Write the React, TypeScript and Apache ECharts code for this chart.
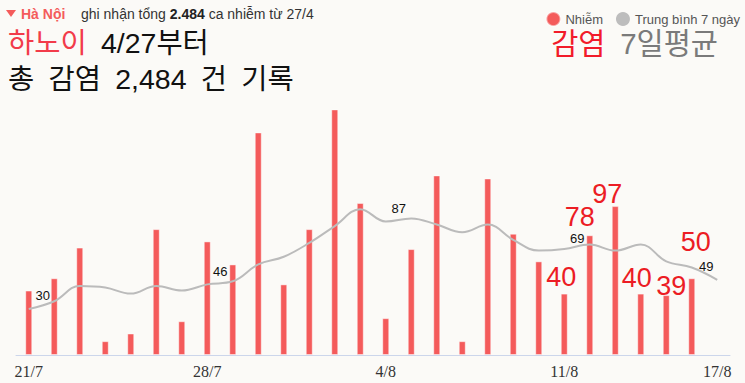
import React, { useEffect, useRef } from 'react';
import * as echarts from 'echarts';

const categories = [
  '21/7', '22/7', '23/7', '24/7', '25/7', '26/7', '27/7', '28/7', '29/7', '30/7', '31/7',
  '1/8', '2/8', '3/8', '4/8', '5/8', '6/8', '7/8', '8/8', '9/8', '10/8', '11/8', '12/8',
  '13/8', '14/8', '15/8', '16/8', '17/8',
];
const newCases: (number | null)[] = [
  42, 50, 70, 9, 14, 82, 22, 74, 59, 145, 46, 82, 160, 99, 24, 69, 117, 9, 115, 79, 61,
  40, 78, 97, 40, 39, 50, null,
];
const avg7 = [
  30, 35, 45, 44, 40, 45, 42, 46, 48, 59, 64, 73, 84, 95, 87, 89, 85, 80, 85, 75, 68,
  69, 72, 68, 72, 61, 57, 49,
];
const axisLabelDays = ['21/7', '28/7', '4/8', '11/8', '17/8'];
const avgLabelDays = ['21/7', '28/7', '4/8', '11/8', '17/8'];
const highlightDays = ['11/8', '12/8', '13/8', '14/8', '15/8', '16/8'];

const barLabelOffsets: Record<string, number[]> = {
  '11/8': [-3, 2],
  '12/8': [-10, 0],
  '13/8': [-8, 6],
  '14/8': [-4, 3],
  '15/8': [5, 9],
  '16/8': [4, -18],
};
const avgLabelOffsets: Record<string, number[]> = {
  '21/7': [14, -1.5],
  '28/7': [13, -1],
  '4/8': [13, -1.5],
  '11/8': [13, 1],
  '17/8': [-11, -2],
};

const SANS = '"Liberation Sans", Arial, sans-serif';
const KR = '"Liberation Sans", "Noto Sans CJK KR", sans-serif';
const SP = '\u2002';

export default function App() {
  const ref = useRef<HTMLDivElement>(null);
  useEffect(() => {
    const chart = echarts.init(ref.current!, null, { renderer: 'svg' });

    const barData = newCases.map((v, i) => {
      const day = categories[i];
      if (highlightDays.includes(day)) {
        return {
          value: v,
          label: {
            show: true,
            position: 'top',
            offset: barLabelOffsets[day],
            fontSize: 27,
            fontFamily: SANS,
            color: '#ec1c24',
          },
        };
      }
      return v;
    });

    const lineData = avg7.map((v, i) => {
      const day = categories[i];
      if (avgLabelDays.includes(day)) {
        return {
          value: v,
          label: {
            show: true,
            position: 'top',
            offset: avgLabelOffsets[day],
            fontSize: 13,
            fontFamily: SANS,
            color: '#111',
          },
        };
      }
      return v;
    });

    const option: any = {
      animation: false,
      backgroundColor: '#fbfaf7',
      legend: {
        right: 0,
        top: 6,
        icon: 'circle',
        itemWidth: 14,
        itemHeight: 14,
        itemGap: 13,
        textStyle: { fontSize: 13, color: '#555', fontFamily: SANS },
        data: ['Nhiễm', 'Trung bình 7 ngày'],
      },
      grid: { left: 16, right: 15, top: 48, bottom: 28 },
      xAxis: {
        type: 'category',
        data: categories,
        axisTick: { show: false },
        axisLine: { lineStyle: { color: '#ccd6eb' } },
        axisLabel: {
          interval: (i: number, v: string) => axisLabelDays.includes(v),
          fontFamily: '"Liberation Serif", serif',
          fontSize: 16,
          color: '#333',
          margin: 8,
        },
      },
      yAxis: {
        type: 'value',
        min: 0,
        max: 200,
        show: false,
        splitLine: { show: false },
      },
      graphic: [
        {
          type: 'polygon',
          shape: { points: [[6, 10], [16, 10], [11, 17]] },
          style: { fill: '#f45b5b' },
        },
        {
          type: 'text',
          x: 21,
          y: 14,
          style: {
            text: 'Hà Nội',
            font: `bold 14px ${SANS}`,
            fill: '#f45b5b',
            verticalAlign: 'middle',
          },
        },
        {
          type: 'text',
          x: 81,
          y: 14,
          style: {
            text: '{n|ghi nhận tổng }{b|2.484}{n| ca nhiễm từ 27/4}',
            font: `14px ${SANS}`,
            fill: '#333',
            verticalAlign: 'middle',
            rich: {
              n: { font: `14px ${SANS}`, fill: '#333' },
              b: { font: `bold 14px ${SANS}`, fill: '#222' },
            },
          },
        },
        {
          type: 'text',
          x: 8,
          y: 43,
          style: {
            text: `{r|하노이}{k|${SP}4/27부터}`,
            font: `28.5px ${KR}`,
            fill: '#111',
            verticalAlign: 'middle',
            rich: {
              r: { font: `28.5px ${KR}`, fill: '#f23b4a', lineHeight: 30 },
              k: { font: `28.5px ${KR}`, fill: '#111', lineHeight: 30 },
            },
          },
        },
        {
          type: 'text',
          x: 8,
          y: 79,
          style: {
            text: `총${SP}감염${SP}2,484${SP}건${SP}기록`,
            font: `28.5px ${KR}`,
            fill: '#111',
            lineHeight: 30,
            verticalAlign: 'middle',
          },
        },
        {
          type: 'text',
          x: 718,
          y: 43,
          style: {
            text: `{r|감염}{g|${SP}7일평균}`,
            font: `29.5px ${KR}`,
            fill: '#7a7a7a',
            align: 'right',
            verticalAlign: 'middle',
            rich: {
              r: { font: `29.5px ${KR}`, fill: '#f21b2a', lineHeight: 28 },
              g: { font: `29.5px ${KR}`, fill: '#7a7a7a', lineHeight: 28 },
            },
          },
        },
      ],
      series: [
        {
          name: 'Nhiễm',
          type: 'bar',
          data: barData,
          barWidth: 7,
          itemStyle: {
            color: '#f45b5b',
            borderColor: 'rgba(255,255,255,0.45)',
            borderWidth: 1,
          },
        },
        {
          name: 'Trung bình 7 ngày',
          type: 'line',
          data: lineData,
          smooth: 0.4,
          symbol: 'circle',
          symbolSize: 0,
          showSymbol: true,
          showAllSymbol: true,
          color: '#bdbdbd',
          lineStyle: { color: '#bbbbbb', width: 2 },
          z: 3,
        },
      ],
    };
    chart.setOption(option);
    return () => chart.dispose();
  }, []);
  return (
    <div
      ref={ref}
      style={{ width: 745, height: 383, position: 'absolute', left: 0, top: 0 }}
    />
  );
}
